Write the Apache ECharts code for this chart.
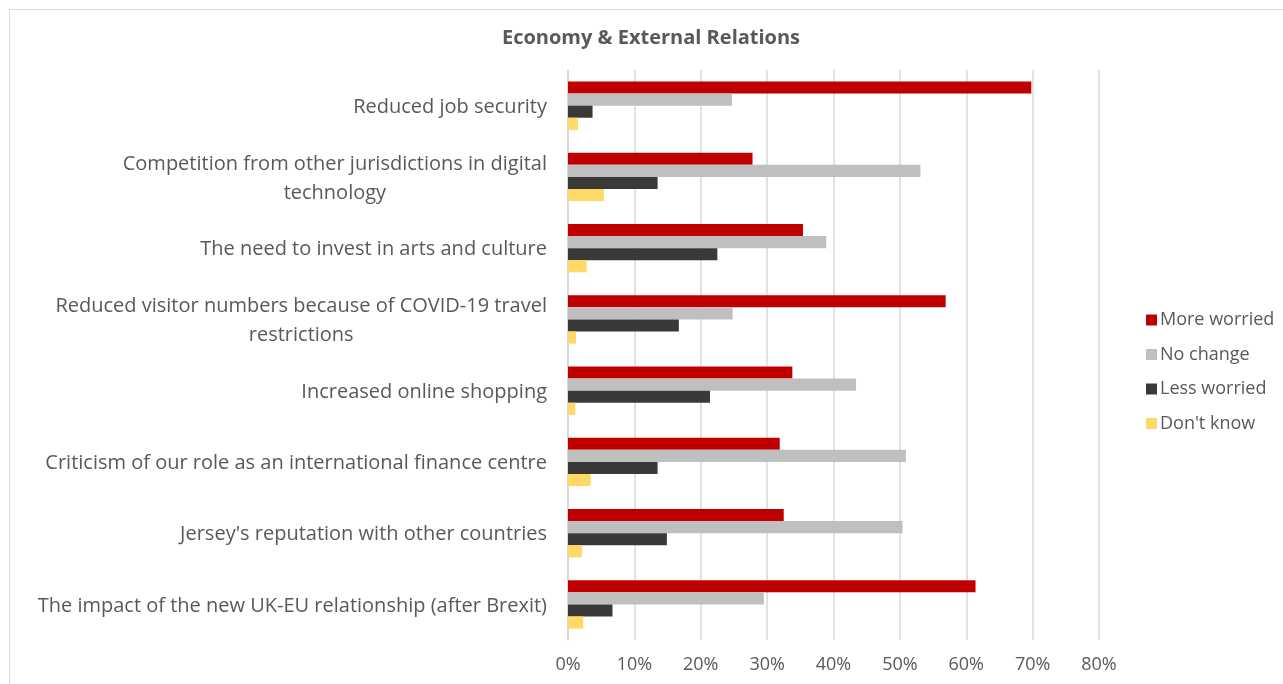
<!DOCTYPE html>
<html>
<head>
<meta charset="utf-8">
<script src="https://cdn.jsdelivr.net/npm/echarts@6/dist/echarts.min.js"></script>
<style>
html,body{margin:0;padding:0;background:#fff;}
#chart{width:1283px;height:684px;}
</style>
</head>
<body>
<div id="chart"></div>
<script>
const categories = [
  "Reduced job security",
  "Competition from other jurisdictions in digital\ntechnology",
  "The need to invest in arts and culture",
  "Reduced visitor numbers because of COVID-19 travel\nrestrictions",
  "Increased online shopping",
  "Criticism of our role as an international finance centre",
  "Jersey's reputation with other countries",
  "The impact of the new UK-EU relationship (after Brexit)"
];
const moreWorried = [69.8, 27.8, 35.4, 56.9, 33.8, 31.9, 32.5, 61.4];
const noChange    = [24.7, 53.1, 38.9, 24.8, 43.4, 50.9, 50.4, 29.5];
const lessWorried = [3.7, 13.5, 22.5, 16.7, 21.4, 13.5, 14.9, 6.7];
const dontKnow    = [1.5, 5.4, 2.8, 1.2, 1.1, 3.4, 2.1, 2.3];
const seriesNames = ["More worried", "No change", "Less worried", "Don't know"];
const xTicks = [0, 10, 20, 30, 40, 50, 60, 70, 80];

const colors = ["#C00000", "#BFBFBF", "#3B3838", "#FFD966"];
const txt = "#595959";
const font = "'Open Sans', 'Noto Sans', sans-serif";

const chart = echarts.init(document.getElementById('chart'));
const dataSets = [moreWorried, noChange, lessWorried, dontKnow];

chart.setOption({
  animation: false,
  backgroundColor: '#fff',
  graphic: [{
    type: 'rect', left: 7, top: 7,
    shape: { width: 1400, height: 800 },
    style: { fill: 'none', stroke: '#d9d9d9', lineWidth: 1 },
    silent: true, z: -1
  }],
  title: {
    text: 'Economy & External Relations',
    left: 646, top: 23, textAlign: 'center',
    textStyle: { color: txt, fontSize: 20, fontWeight: 'bold', fontFamily: font }
  },
  legend: {
    orient: 'vertical',
    left: 1141, top: 306,
    itemWidth: 11, itemHeight: 11, itemGap: 16.5,
    icon: 'rect',
    data: seriesNames,
    textStyle: { color: txt, fontSize: 18, fontFamily: font, padding: [0, 0, 0, -2] }
  },
  grid: { left: 568, right: 184, top: 70, bottom: 44, containLabel: false },
  xAxis: {
    type: 'value', min: 0, max: 80, interval: 10,
    axisLabel: {
      color: txt, fontSize: 18, fontFamily: font, margin: 16,
      formatter: v => xTicks.includes(v) ? v + '%' : ''
    },
    axisLine: { show: false },
    axisTick: { show: false },
    splitLine: { lineStyle: { color: '#d9d9d9', width: 1.5 } }
  },
  yAxis: {
    type: 'category', inverse: true, data: categories,
    axisLine: { show: true, lineStyle: { color: '#d9d9d9', width: 1.5 } },
    axisTick: { show: false },
    axisLabel: {
      color: txt, fontSize: 20, fontFamily: font, margin: 21,
      align: 'right',
      formatter: v => v.split('\n').map(l => '{c|' + l + '}').join('\n'),
      rich: { c: { align: 'center', color: txt, fontSize: 20, fontFamily: font, lineHeight: 29, padding: [3, 0, 0, 0] } }
    }
  },
  series: dataSets.map((d, i) => ({
    name: seriesNames[i], type: 'bar', data: d,
    barGap: '0%', barCategoryGap: '32%',
    itemStyle: { color: colors[i] }
  }))
});
</script>
</body>
</html>
